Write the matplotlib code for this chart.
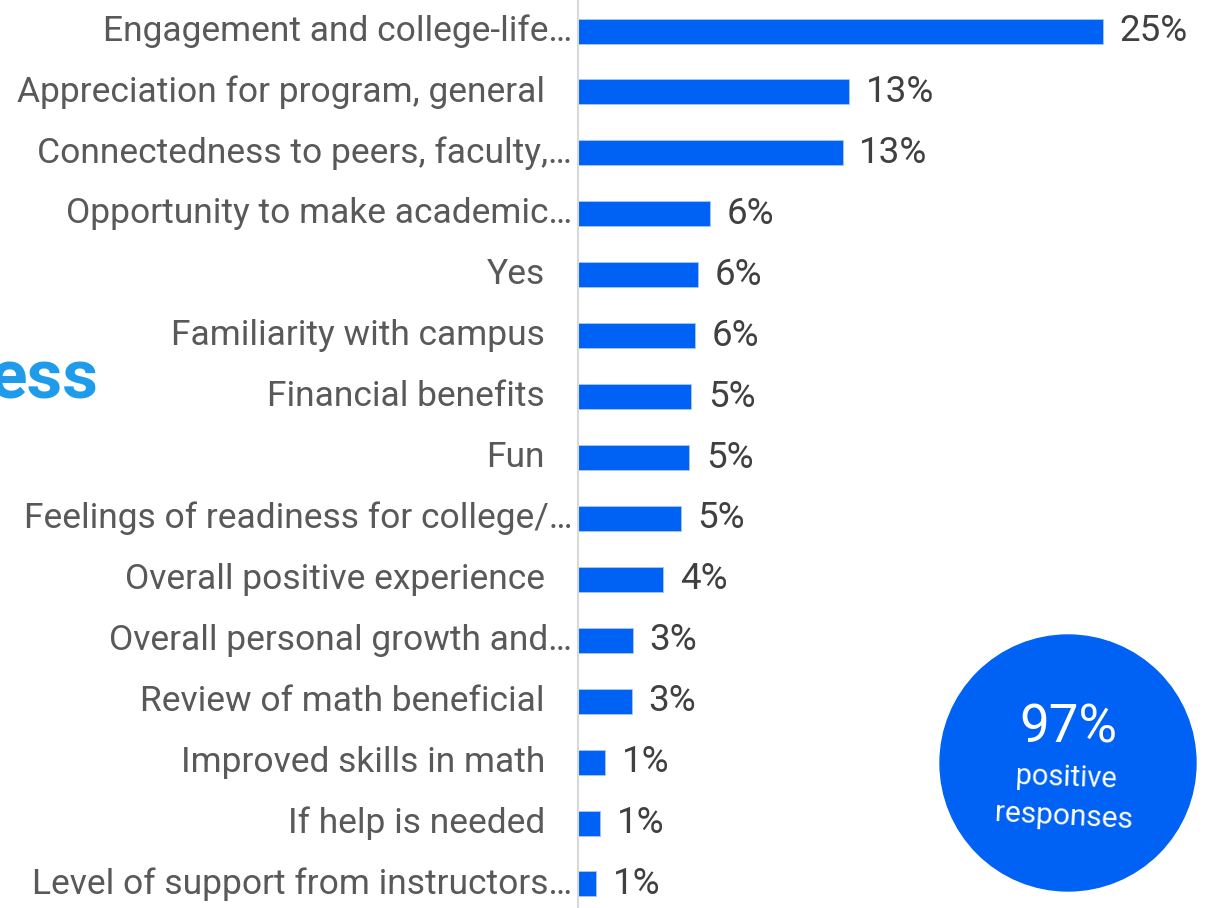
import matplotlib.pyplot as plt
from matplotlib.patches import Circle

# Respostas positivas - categorias e percentuais
categorias = [
    'Engagement and college-life…',
    'Appreciation for program, general',
    'Connectedness to peers, faculty,…',
    'Opportunity to make academic…',
    'Yes',
    'Familiarity with campus',
    'Financial benefits',
    'Fun',
    'Feelings of readiness for college/…',
    'Overall positive experience',
    'Overall personal growth and…',
    'Review of math beneficial',
    'Improved skills in math',
    'If help is needed',
    'Level of support from instructors…',
]
valores = [25.0, 12.9, 12.6, 6.3, 5.7, 5.55, 5.4, 5.3, 4.9, 4.05, 2.6, 2.55, 1.3, 1.05, 0.85]
total_positivo = 97

AZUL = '#0062F5'
FONTE = ['Roboto', 'DejaVu Sans']
plt.rcParams['font.family'] = FONTE

fig = plt.figure(figsize=(12.22, 9.08), dpi=100)
W, H = 1222, 908

# eixo das barras
ax = fig.add_axes([578 / W, 0, 1 - 578 / W, 1])
y = list(range(len(categorias)))
ax.barh(y, valores, height=0.41, color=AZUL, edgecolor='#a9c8f5', linewidth=0.6)
ax.set_xlim(0, (W - 578) / 21)
ax.set_ylim(14 + 24 / 60.9, -31 / 60.9)

for i, (cat, v) in enumerate(zip(categorias, valores)):
    ax.text(v + 0.8, i, f'{v:.0f}%', va='center', ha='left', fontsize=26.5, color='#404040')
    pad = 6 if cat.endswith('…') else 33
    ax.annotate(cat, xy=(0, i), xycoords=('axes fraction', 'data'),
                xytext=(-pad, 0), textcoords='offset pixels',
                ha='right', va='center', fontsize=25.5, color='#595959',
                annotation_clip=False)

for s in ['top', 'right', 'bottom']:
    ax.spines[s].set_visible(False)
ax.spines['left'].set_color('#d9d9d9')
ax.spines['left'].set_linewidth(1.5)
ax.set_xticks([])
ax.set_yticks([])

# camada em pixels para o círculo e o texto de fundo
over = fig.add_axes([0, 0, 1, 1], zorder=5)
over.set_xlim(0, W)
over.set_ylim(H, 0)
over.axis('off')
over.patch.set_alpha(0)

over.text(98, 380, 'ess', ha='right', va='center', fontsize=50, fontweight='bold',
          color='#1E9CEB')

over.add_patch(Circle((1068, 763), 128, color=AZUL))
over.text(1068, 728, f'{total_positivo}%', ha='center', va='center', fontsize=38, color='white')
over.text(1066, 778, 'positive', ha='center', va='center', fontsize=21, color='white', rotation=-2)
over.text(1064, 817, 'responses', ha='center', va='center', fontsize=21.5, color='white', rotation=-3)

fig.savefig('out.png', dpi=100)
